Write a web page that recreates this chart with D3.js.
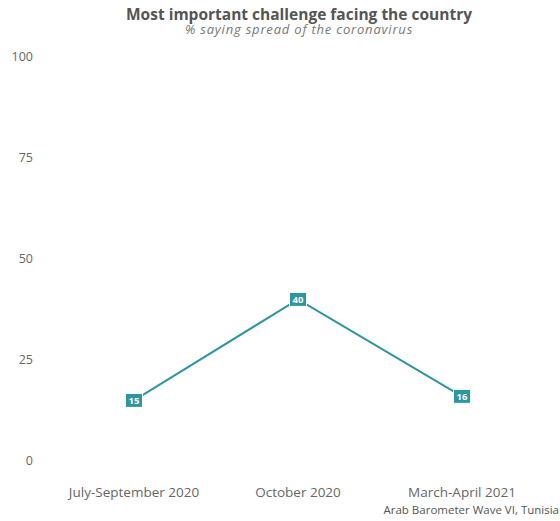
<!DOCTYPE html>
<html>
<head>
<meta charset="utf-8">
<script src="https://cdn.jsdelivr.net/npm/d3@7"></script>
<style>
  body { margin: 0; background: #fff; }
  text { font-family: "Open Sans", "Noto Sans", sans-serif; }
</style>
</head>
<body>
<div id="chart"></div>
<script>
// data
var periods = ["July-September 2020", "October 2020", "March-April 2021"];
var values = [15, 40, 16];
var yTicks = [0, 25, 50, 75, 100];

var width = 560, height = 521;
var lineColor = "#2b97a1";

var svg = d3.select("#chart").append("svg")
	.attr("width", width)
	.attr("height", height);

var xScale = d3.scalePoint()
	.domain(periods)
	.range([134, 462]);

var yScale = d3.scaleLinear()
	.domain([0, 100])
	.range([461, 57]);

// y axis labels (no line, no ticks)
svg.selectAll("text.ytick")
	.data(yTicks)
	.enter()
	.append("text")
	.attr("class", "ytick")
	.attr("x", 33)
	.attr("y", function(d) { return yScale(d); })
	.attr("dy", "0.35em")
	.attr("text-anchor", "end")
	.attr("font-size", 12.5)
	.attr("fill", "#666")
	.text(function(d) { return d; });

// x axis labels
svg.selectAll("text.xtick")
	.data(periods)
	.enter()
	.append("text")
	.attr("class", "xtick")
	.attr("x", function(d) { return xScale(d); })
	.attr("y", 492)
	.attr("dy", "0.35em")
	.attr("text-anchor", "middle")
	.attr("font-size", 13.5)
	.attr("fill", "#666")
	.text(function(d) { return d; });

// line
var pts = periods.map(function(p, i) { return {period: p, value: values[i]}; });
var lineGen = d3.line()
	.x(function(d) { return xScale(d.period); })
	.y(function(d) { return yScale(d.value); });

svg.append("path")
	.attr("d", lineGen(pts))
	.attr("stroke", lineColor)
	.attr("stroke-width", 2)
	.attr("fill", "none");

// value labels
var lab = svg.selectAll("g.lab")
	.data(pts)
	.enter()
	.append("g")
	.attr("class", "lab")
	.attr("transform", function(d) {
		return "translate(" + xScale(d.period) + "," + yScale(d.value) + ")";
	});
lab.append("rect")
	.attr("x", -8.5)
	.attr("y", -7)
	.attr("width", 17)
	.attr("height", 14)
	.attr("fill", lineColor)
	.attr("stroke", "#fff")
	.attr("stroke-width", 1);
lab.append("text")
	.attr("text-anchor", "middle")
	.attr("dy", "0.35em")
	.attr("font-size", 9.5)
	.attr("font-weight", "bold")
	.attr("fill", "#fff")
	.text(function(d) { return d.value; });

// titles
svg.append("text")
	.attr("x", 299)
	.attr("y", 20)
	.attr("text-anchor", "middle")
	.attr("font-size", 15.5)
	.attr("font-weight", "bold")
	.attr("fill", "#555")
	.text("Most important challenge facing the country");
svg.append("text")
	.attr("x", 299)
	.attr("y", 34)
	.attr("text-anchor", "middle")
	.attr("font-size", 13)
	.attr("font-style", "italic")
	.attr("letter-spacing", 0.8)
	.attr("fill", "#777")
	.text("% saying spread of the coronavirus");

// caption
svg.append("text")
	.attr("x", 559)
	.attr("y", 514)
	.attr("text-anchor", "end")
	.attr("font-size", 11.5)
	.attr("fill", "#555")
	.text("Arab Barometer Wave VI, Tunisia");
</script>
</body>
</html>
